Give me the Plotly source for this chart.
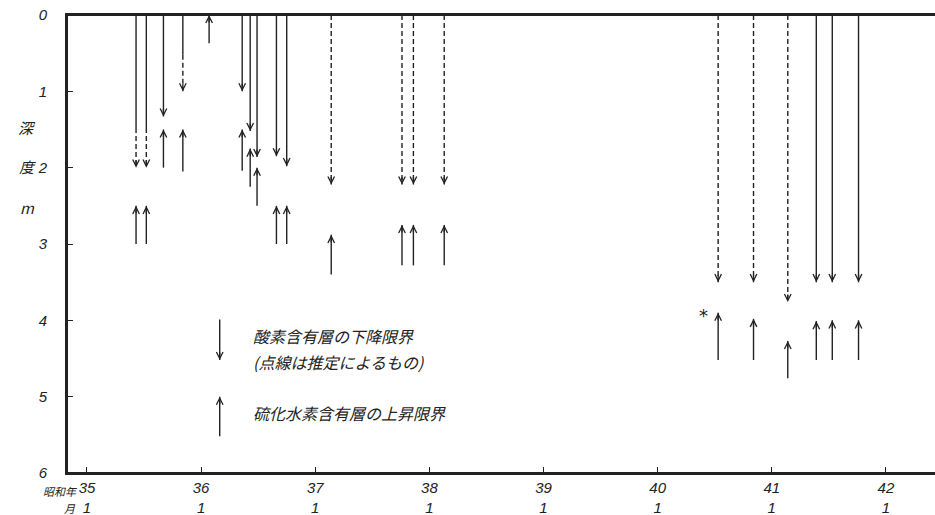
import plotly.graph_objects as go

# ---- data (years as 昭和 decimal year, depth in m) ----
down_x = [35.43, 35.52, 35.67, 35.84, 36.36, 36.43, 36.49, 36.66, 36.75,
          37.14, 37.76, 37.86, 38.13,
          40.53, 40.84, 41.14, 41.39, 41.53, 41.76]
down_depth = [2.0, 2.0, 1.33, 1.0, 1.0, 1.52, 1.86, 1.85, 1.98,
              2.22, 2.22, 2.22, 2.22,
              3.5, 3.5, 3.76, 3.5, 3.5, 3.5]
# depth to which the shaft is solid (rest dashed = estimated)
down_solid_to = [1.48, 1.48, 1.33, 0.52, 1.0, 1.52, 1.86, 1.85, 1.98,
                 0.0, 0.0, 0.0, 0.0,
                 0.0, 0.0, 0.0, 3.5, 3.5, 3.5]

up_x = [35.43, 35.52, 35.67, 35.84, 36.07, 36.36, 36.43, 36.49, 36.66, 36.75,
        37.14, 37.76, 37.86, 38.13,
        40.53, 40.84, 41.14, 41.39, 41.53, 41.76]
up_from = [3.0, 3.0, 2.0, 2.05, 0.37, 2.04, 2.25, 2.5, 3.0, 3.0,
           3.4, 3.28, 3.28, 3.28,
           4.52, 4.52, 4.76, 4.52, 4.52, 4.52]
up_to = [2.5, 2.5, 1.5, 1.5, 0.0, 1.5, 1.75, 2.0, 2.5, 2.5,
         2.88, 2.75, 2.75, 2.75,
         3.9, 3.98, 4.27, 4.01, 4.0, 4.0]

year_ticks = [35, 36, 37, 38, 39, 40, 41, 42]
year_labels = ["35", "36", "37", "38", "39", "40", "41", "42"]
depth_ticks = [0, 1, 2, 3, 4, 5, 6]

legend_x = 36.163
legend_down = (3.99, 4.52)
legend_up = (5.52, 5.0)
legend_text_x = 36.44
legend_texts = ["酸素含有層の下降限界", "(点線は推定によるもの)", "硫化水素含有層の上昇限界"]
legend_text_y = [4.21, 4.55, 5.21]
asterisk_pos = (40.40, 3.94)

INK = "#222222"
LW = 1.4

fig = go.Figure()

sx, sy, dx, dy = [], [], [], []
for x, d, s in zip(down_x, down_depth, down_solid_to):
    if s > 0:
        sx += [x, x, None]; sy += [0, s, None]
    if s < d:
        dx += [x, x, None]; dy += [s, d, None]
for x, f, t in zip(up_x, up_from, up_to):
    sx += [x, x, None]; sy += [f, t, None]
# legend keys
sx += [legend_x, legend_x, None, legend_x, legend_x, None]
sy += [legend_down[0], legend_down[1], None, legend_up[0], legend_up[1], None]

fig.add_trace(go.Scatter(x=sx, y=sy, mode="lines",
                         line=dict(color=INK, width=LW), hoverinfo="skip"))
fig.add_trace(go.Scatter(x=dx, y=dy, mode="lines",
                         line=dict(color=INK, width=LW, dash="5px,3px"), hoverinfo="skip"))

def head(x, y, down):
    fig.add_annotation(x=x, y=y, xref="x", yref="y", text="", showarrow=True,
                       ax=0, ay=-9 if down else 9, arrowhead=5, arrowsize=1.0,
                       arrowwidth=1.3, arrowcolor=INK, standoff=0)

for x, d in zip(down_x, down_depth):
    head(x, d, True)
for x, t in zip(up_x, up_to):
    head(x, t, False)
head(legend_x, legend_down[1], True)
head(legend_x, legend_up[1], False)

txtfont = dict(family="Noto Sans CJK JP", size=16, color=INK, style="italic")
for t, y in zip(legend_texts, legend_text_y):
    fig.add_annotation(x=legend_text_x, y=y, xref="x", yref="y", text=t,
                       showarrow=False, xanchor="left", yanchor="middle", font=txtfont)

fig.add_annotation(x=asterisk_pos[0], y=asterisk_pos[1], xref="x", yref="y", text="*",
                   showarrow=False, font=dict(family="DejaVu Sans", size=18, color=INK))

# y axis title (vertical characters)
for ch, y in zip(["深", "度", "m"], [1.48, 1.98, 2.52]):
    fig.add_annotation(x=0, y=y, xref="paper", yref="y", text=ch, showarrow=False,
                       xanchor="center", xshift=-40,
                       font=dict(family="Noto Sans CJK JP", size=15, color=INK, style="italic"))

# first tick prefixes
fig.add_annotation(x=35, y=0, xref="x", yref="paper", text="昭和年", showarrow=False,
                   xanchor="right", yanchor="top", xshift=-8, yshift=-8,
                   font=dict(family="Noto Sans CJK JP", size=11, color=INK, style="italic"))
fig.add_annotation(x=35, y=0, xref="x", yref="paper", text="月", showarrow=False,
                   xanchor="right", yanchor="top", xshift=-9, yshift=-25,
                   font=dict(family="Noto Sans CJK JP", size=11, color=INK, style="italic"))

# frame lines (left, bottom, top)
frame = dict(color=INK, width=2)
fig.add_shape(type="line", xref="paper", yref="paper", x0=0, x1=0, y0=0, y1=1, line=frame)
fig.add_shape(type="line", xref="paper", yref="paper", x0=0, x1=1, y0=0, y1=0, line=frame)
fig.add_shape(type="line", xref="paper", yref="paper", x0=0, x1=1, y0=1, y1=1, line=frame)

tickfont = dict(family="Liberation Sans", size=15, color=INK, style="italic")
fig.update_layout(
    width=935, height=515,
    margin=dict(l=67, r=0, t=15, b=42),
    paper_bgcolor="white", plot_bgcolor="white",
    showlegend=False, hovermode=False,
    xaxis=dict(range=[34.825, 42.43], tickvals=year_ticks,
               ticktext=[f"{l}<br>1" for l in year_labels],
               ticks="inside", ticklen=6, tickwidth=1.2, tickcolor=INK,
               showline=True, linecolor=INK, linewidth=2, mirror=True,
               showgrid=False, zeroline=False, tickfont=tickfont),
    yaxis=dict(range=[6, 0], tickvals=depth_ticks,
               ticks="inside", ticklen=6, tickwidth=1.2, tickcolor=INK,
               showline=True, linecolor=INK, linewidth=2,
               showgrid=False, zeroline=False, tickfont=tickfont, ticklabelstandoff=15),
)

fig.write_html("out.html", config={"displayModeBar": False},
               post_script="document.body.style.margin='0';")
